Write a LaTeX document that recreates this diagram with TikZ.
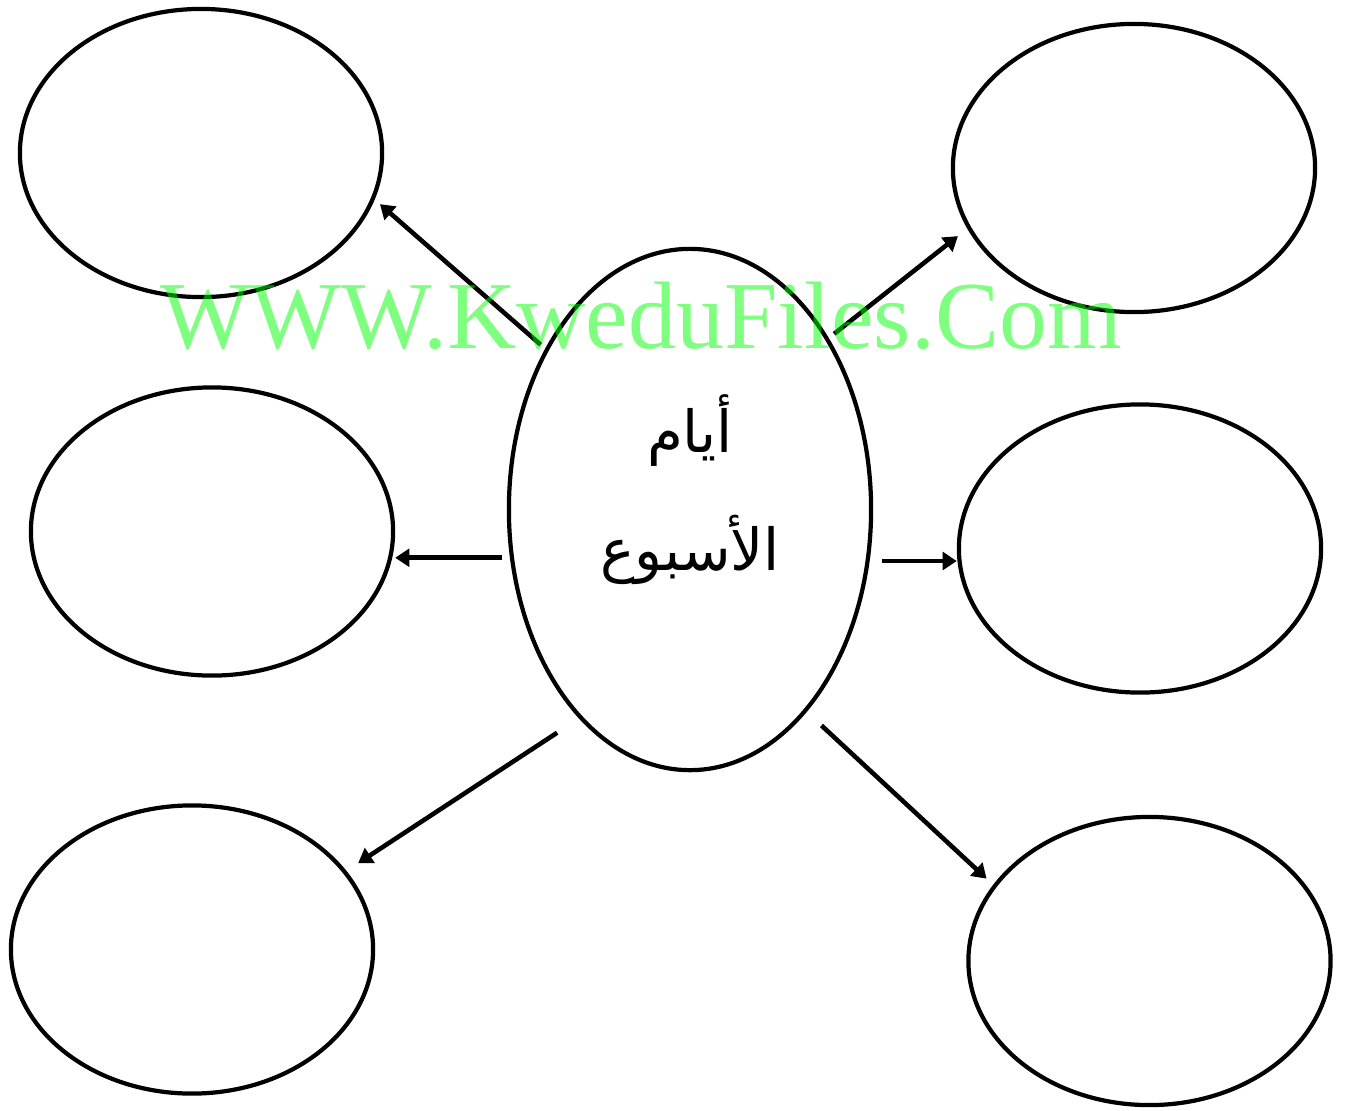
\documentclass[tikz,border=0pt]{standalone}
\usepackage{fontspec}
\setmainfont{Liberation Serif}
\newfontfamily\arabicfont[Script=Arabic]{DejaVu Sans}
\TeXXeTstate=1
\usetikzlibrary{arrows.meta,shapes.geometric}

\begin{document}
\begin{tikzpicture}[x=0.01cm,y=-0.01cm,
  bubble/.style={draw,ellipse,line width=1.2pt,minimum width=3.62cm,minimum height=2.88cm,inner sep=0pt},
  link/.style={line width=1.3pt,-{Triangle[length=4pt,width=5pt]}},
  arabic/.style={font=\arabicfont\fontsize{16.5}{20}\selectfont,anchor=base,inner sep=0pt}]
\useasboundingbox (0,0) rectangle (1356,1111);

\node[bubble] (tl) at (201,153) {};
\node[bubble] (tr) at (1134,168) {};
\node[bubble] (ml) at (212,531.5) {};
\node[bubble] (mr) at (1140,548.5) {};
\node[bubble] (bl) at (192,949.5) {};
\node[bubble] (br) at (1149.5,961) {};
\node[bubble,minimum height=5.21cm] (c) at (690,509.5) {};
\node[arabic] (days) at (690,452) {\beginR أيام\endR};
\node[arabic] (week) at (690,570) {\beginR الأسبوع\endR};

\draw[link,shorten <=0.06cm,shorten >=0.07cm] (c.132.45) -- (tl.-15.95);
\draw[link,shorten <=0.068cm,shorten >=0.12cm] (c.51.07) -- (tr.-160.4);
\draw[link,shorten <=0.08cm] (c.-165.5) -- (c.-165.5 -| ml.east);
\draw[link,shorten <=0.125cm] (c.-16.9) -- (c.-16.9 -| mr.west);
\draw[link,shorten <=0.26cm,shorten >=0.14cm] (c.-118.56) -- (bl.27.39);
\draw[link,shorten <=0.2cm,shorten >=0.09cm] (c.-60.03) -- (br.154.58);

% watermark
\node[font=\fontsize{27.3}{30}\selectfont,text=green,opacity=0.5,anchor=base,inner sep=0pt] (mark) at (641,348) {WWW.KweduFiles.Com};
\end{tikzpicture}
\end{document}
